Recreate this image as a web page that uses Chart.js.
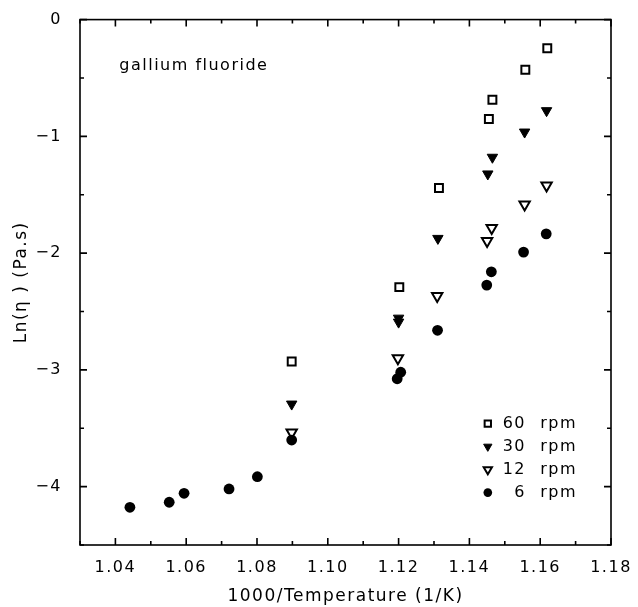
<!DOCTYPE html>
<html>
<head>
<meta charset="utf-8">
<script src="https://cdn.jsdelivr.net/npm/chart.js"></script>
<style>
  html, body { margin: 0; padding: 0; background: #fff; }
</style>
</head>
<body>
<canvas id="chart" width="638" height="607"></canvas>
<script>
// values: x = 1000/T (1/K), y = Ln(eta) (Pa.s)
const x60 = [1.0898, 1.1202, 1.1314, 1.1455, 1.1465, 1.1558, 1.1620];
const y60 = [-2.929, -2.291, -1.442, -0.852, -0.686, -0.430, -0.245];

const x30 = [1.0898, 1.1200, 1.1200, 1.1311, 1.1452, 1.1465, 1.1556, 1.1618];
const y30 = [-3.293, -2.591, -2.557, -1.874, -1.322, -1.179, -0.963, -0.780];

const x12 = [1.0898, 1.1198, 1.1309, 1.1450, 1.1463, 1.1556, 1.1618];
const y12 = [-3.536, -2.900, -2.368, -1.897, -1.784, -1.584, -1.421];

const x6 = [1.0441, 1.0552, 1.0594, 1.0721, 1.0801, 1.0898, 1.1196, 1.1206, 1.1310, 1.1449, 1.1462, 1.1553, 1.1617];
const y6 = [-4.177, -4.134, -4.057, -4.020, -3.915, -3.601, -3.076, -3.020, -2.661, -2.274, -2.160, -1.991, -1.835];

const seriesLabels = ['60 rpm', '30 rpm', '12 rpm', '6 rpm'];

// labelled ticks
const xMajor = [1.04, 1.06, 1.08, 1.10, 1.12, 1.14, 1.16, 1.18];
const yMajor = [0, -1, -2, -3, -4];

const isMajor = (list, v) => list.some(m => Math.abs(m - v) < 1e-6);
const toPoints = (xs, ys) => xs.map((x, i) => ({ x: x, y: ys[i] }));

const FONT = 'DejaVu Sans';

const framePlugin = {
  id: 'frame',
  beforeDraw(chart) {
    chart.ctx.letterSpacing = '1.5px';
  },
  beforeDatasetsDraw(chart) {
    const { ctx, chartArea: a, scales: { x, y } } = chart;
    ctx.save();
    ctx.strokeStyle = '#000';
    ctx.lineWidth = 1.6;
    ctx.strokeRect(a.left, a.top, a.right - a.left, a.bottom - a.top);
    // inward tick marks on all four sides
    ctx.beginPath();
    x.ticks.forEach(t => {
      const px = x.getPixelForValue(t.value);
      const len = isMajor(xMajor, t.value) ? 7 : 4;
      ctx.moveTo(px, a.bottom); ctx.lineTo(px, a.bottom - len);
      ctx.moveTo(px, a.top); ctx.lineTo(px, a.top + len);
    });
    y.ticks.forEach(t => {
      const py = y.getPixelForValue(t.value);
      const len = isMajor(yMajor, t.value) ? 7 : 4;
      ctx.moveTo(a.left, py); ctx.lineTo(a.left + len, py);
      ctx.moveTo(a.right, py); ctx.lineTo(a.right - len, py);
    });
    ctx.stroke();
    ctx.restore();
  },
  afterDraw(chart) {
    const { ctx, scales: { x, y } } = chart;
    ctx.save();
    ctx.fillStyle = '#000';
    ctx.font = '16px "' + FONT + '"';
    ctx.textBaseline = 'alphabetic';
    ctx.textAlign = 'left';
    ctx.fillText('gallium fluoride', x.getPixelForValue(1.0411), y.getPixelForValue(-0.428));

    // legend, bottom right inside the frame
    const markerX = x.getPixelForValue(1.1452);
    const numRight = x.getPixelForValue(1.1560);
    const unitLeft = x.getPixelForValue(1.1600);
    chart.data.datasets.forEach((ds, i) => {
      const cy = y.getPixelForValue(-3.46) + i * 23;
      ctx.fillStyle = ds.pointBackgroundColor;
      ctx.strokeStyle = ds.pointBorderColor;
      ctx.lineWidth = ds.pointBorderWidth;
      Chart.helpers.drawPoint(ctx, {
        pointStyle: ds.pointStyle,
        rotation: ds.pointRotation || 0,
        radius: ds.pointRadius * 0.8,
        borderWidth: ds.pointBorderWidth
      }, markerX, cy);
      const parts = ds.label.split(' ');
      ctx.fillStyle = '#000';
      ctx.textBaseline = 'middle';
      ctx.textAlign = 'right';
      ctx.fillText(parts[0], numRight, cy);
      ctx.textAlign = 'left';
      ctx.fillText(parts[1], unitLeft, cy);
    });
    ctx.restore();
  }
};

new Chart(document.getElementById('chart'), {
  type: 'scatter',
  data: {
    datasets: [
      {
        label: seriesLabels[0],
        data: toPoints(x60, y60),
        pointStyle: 'rect',
        pointRadius: 5.6,
        pointBorderWidth: 2,
        pointBorderColor: '#000',
        pointBackgroundColor: '#fff'
      },
      {
        label: seriesLabels[1],
        data: toPoints(x30, y30),
        pointStyle: 'triangle',
        pointRotation: 180,
        pointRadius: 6,
        pointBorderWidth: 1,
        pointBorderColor: '#000',
        pointBackgroundColor: '#000'
      },
      {
        label: seriesLabels[2],
        data: toPoints(x12, y12),
        pointStyle: 'triangle',
        pointRotation: 180,
        pointRadius: 6,
        pointBorderWidth: 2,
        pointBorderColor: '#000',
        pointBackgroundColor: '#fff'
      },
      {
        label: seriesLabels[3],
        data: toPoints(x6, y6),
        pointStyle: 'circle',
        pointRadius: 5.4,
        pointBorderWidth: 0,
        pointBorderColor: '#000',
        pointBackgroundColor: '#000',
        order: -1
      }
    ]
  },
  options: {
    responsive: false,
    animation: false,
    events: [],
    layout: { padding: { left: 0, right: 27, top: 18, bottom: 0 } },
    plugins: {
      legend: { display: false },
      tooltip: { enabled: false }
    },
    scales: {
      x: {
        type: 'linear',
        min: 1.03,
        max: 1.18,
        grid: { display: false },
        border: { display: false },
        ticks: {
          stepSize: 0.01,
          autoSkip: false,
          maxRotation: 0,
          padding: 5,
          color: '#000',
          font: { family: FONT, size: 16 },
          callback: v => isMajor(xMajor, v) ? v.toFixed(2) : ''
        },
        title: {
          display: true,
          text: '1000/Temperature (1/K)',
          color: '#000',
          font: { family: FONT, size: 17 },
          padding: { top: 0, bottom: 0 }
        },
        afterFit: s => { s.height = 62; }
      },
      y: {
        type: 'linear',
        min: -4.5,
        max: 0,
        grid: { display: false },
        border: { display: false },
        ticks: {
          stepSize: 0.5,
          autoSkip: false,
          padding: 10,
          color: '#000',
          font: { family: FONT, size: 16 },
          callback: v => isMajor(yMajor, v) ? (v < 0 ? '\u2212' + Math.abs(v) : '0') : ''
        },
        title: {
          display: true,
          text: 'Ln(\u03b7 ) (Pa.s)',
          color: '#000',
          font: { family: FONT, size: 17 },
          padding: { top: 11, bottom: 0 }
        },
        afterFit: s => { s.width = 80; }
      }
    }
  },
  plugins: [framePlugin]
});
</script>
</body>
</html>
